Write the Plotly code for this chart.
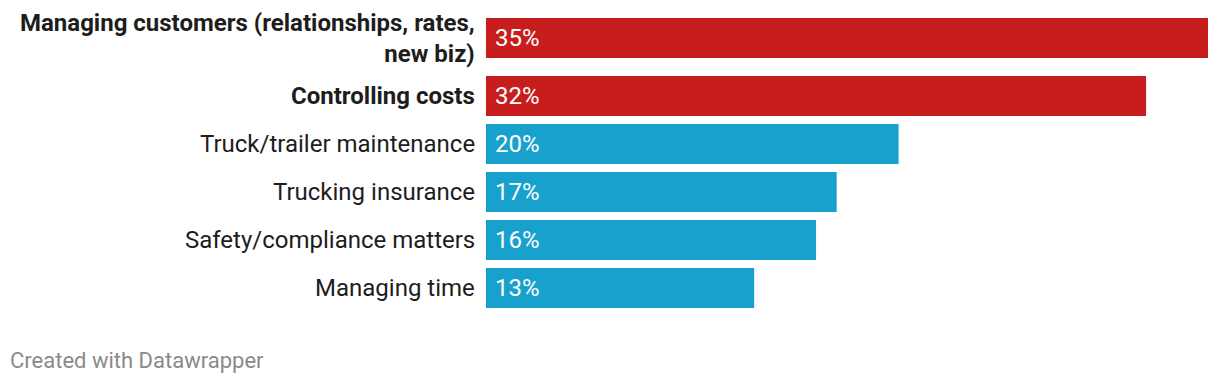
import plotly.graph_objects as go

categories = [
    "Managing customers (relationships, rates,<br>new biz)",
    "Controlling costs",
    "Truck/trailer maintenance",
    "Trucking insurance",
    "Safety/compliance matters",
    "Managing time",
]
values = [35, 32, 20, 17, 16, 13]
highlight = [True, True, False, False, False, False]

RED = "#c71e1d"
BLUE = "#18a1cd"
TEXT = "#1d1d1d"
FONT = "Roboto"
FS = 24

# page body has an 8px margin; figure coordinates = page coordinates - 8
OFF = 8
W, H = 1220 - OFF, 384 - OFF
ML = 486 - OFF
MR = W - (1208 - OFF)
MT = 0
MB = 64
plot_h = H - MT - MB
plot_w = W - ML - MR

# row layout (pixel units on the y axis)
bar_h = 40
top_pad = 18 - OFF
row_gap = 48
extra_per_line = 10
centers = []
c = top_pad + bar_h / 2
for cat in categories:
    centers.append(c)
    c += row_gap + extra_per_line * cat.count("<br>")

colors = [RED if h else BLUE for h in highlight]

fig = go.Figure(
    go.Bar(
        x=values,
        y=centers,
        orientation="h",
        width=bar_h,
        marker=dict(color=colors, line=dict(width=0)),
        hoverinfo="skip",
    )
)

# category labels
for cat, yc, h in zip(categories, centers, highlight):
    txt = "<br>".join(f"<b>{ln}</b>" if h else ln for ln in cat.split("<br>"))
    fig.add_annotation(
        x=0, y=yc, xref="paper", yref="y",
        text=txt, showarrow=False, align="right",
        xanchor="right", yanchor="middle", xshift=-9,
        font=dict(family=FONT, size=FS, color=TEXT),
    )

# value labels inside bars
for v, yc in zip(values, centers):
    fig.add_annotation(
        x=0, y=yc, xref="x", yref="y",
        text=f"{v}%", showarrow=False,
        xanchor="left", yanchor="middle", xshift=7,
        font=dict(family=FONT, size=FS, color="white"),
    )

fig.add_annotation(
    text="Created with Datawrapper",
    xref="paper", yref="paper",
    x=(8 - OFF - ML) / plot_w, y=(plot_h - (360 - OFF) + MT) / plot_h,
    xanchor="left", yanchor="middle", showarrow=False,
    font=dict(family=FONT, size=22, color="#8a8a8a"),
)

fig.update_layout(
    width=W, height=H,
    margin=dict(l=ML, r=MR, t=MT, b=MB),
    paper_bgcolor="white", plot_bgcolor="white",
    showlegend=False,
    font=dict(family=FONT, size=FS, color=TEXT),
    xaxis=dict(range=[0, max(values)], visible=False, fixedrange=True),
    yaxis=dict(
        range=[plot_h, 0], visible=False, fixedrange=True,
    ),
)

fig.write_html("out.html")
